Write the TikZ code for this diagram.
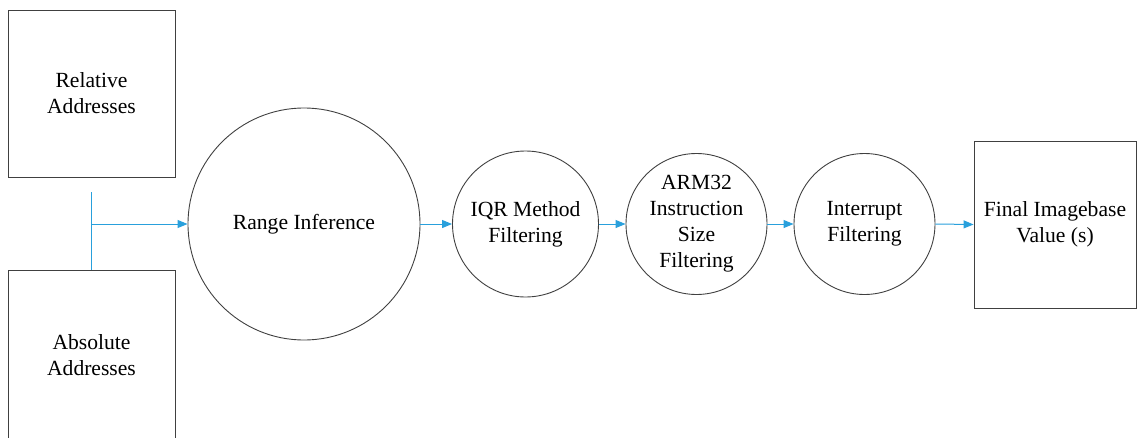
\documentclass[tikz,border=0pt]{standalone}
\usepackage{fontspec}
\setmainfont{Liberation Serif}
\usetikzlibrary{arrows.meta}
\definecolor{edge}{RGB}{64,64,64}
\definecolor{flow}{RGB}{41,160,220}
\tikzset{
  boxnode/.style={draw=edge, line width=0.9pt, rectangle, inner sep=0pt, align=center,
    font=\fontsize{21.6}{26}\selectfont},
  circnode/.style={draw=edge, line width=0.9pt, circle, inner sep=0pt, align=center,
    font=\fontsize{21.6}{26}\selectfont},
  flowline/.style={draw=flow, line width=1pt},
  flowarrow/.style={flowline, -{Triangle[length=10pt,width=8pt]}}
}
\begin{document}
\begin{tikzpicture}[x=1pt,y=-1pt]
\useasboundingbox (0,0) rectangle (1141,437);
\begin{scope}
\clip (0,0) rectangle (1141,437);
\node[boxnode, minimum width=167pt, minimum height=167pt] (rel) at (91.5,93.5) {\rmfamily Relative\\\rmfamily Addresses};
\node[boxnode, minimum width=167pt, minimum height=172pt] (abs) at (91.5,356) {};
\node[align=center, inner sep=0pt, font=\fontsize{21.6}{26}\selectfont\rmfamily] (abstext) at (91.5,355) {Absolute\\Addresses};
\end{scope}
\node[circnode, minimum size=232pt] (range) at (304,224) {Range Inference};
\node[circnode, minimum size=146pt] (iqr) at (525.5,224) {IQR Method\\Filtering};
\node[circnode, minimum size=141pt] (arm) at (696.5,224) {ARM32\\Instruction\\Size\\Filtering};
\node[circnode, minimum size=141pt] (intr) at (864.5,224) {Interrupt\\Filtering};
\node[boxnode, minimum width=162pt, minimum height=167pt] (final) at (1055,224.5) {Final Imagebase\\Value (s)};
\coordinate (top) at (91.5,192);
\coordinate (join) at (91.5,224);
\draw[flowline] (abs.north) -- (top);
\draw[flowarrow] (join) -- (range.west);
\draw[flowarrow] (range.east) -- (iqr.west);
\draw[flowarrow] (iqr.east) -- (arm.west);
\draw[flowarrow] (arm.east) -- (intr.west);
\draw[flowarrow] (intr.east) -- (final.west);
\end{tikzpicture}
\end{document}
